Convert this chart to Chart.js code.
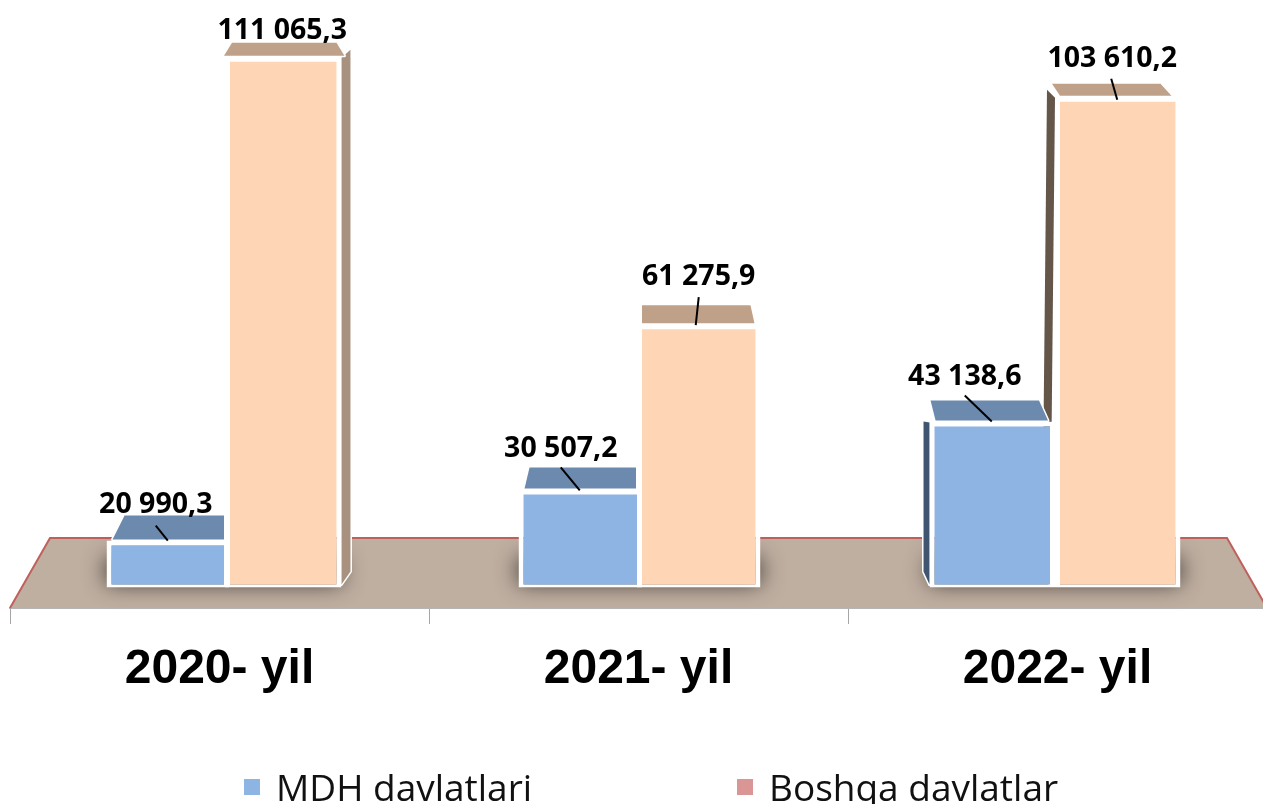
<!DOCTYPE html>
<html>
<head>
<meta charset="utf-8">
<title>MDH va boshqa davlatlar</title>
<script src="https://cdn.jsdelivr.net/npm/chart.js@4"></script>
<style>
  html, body { margin: 0; height: 100%; background: #fff; overflow: hidden; }
  #wrap { position: relative; width: 1263px; height: 804px; overflow: hidden; }
  #overviewChart { position: absolute; left: 0; top: 0; }
  .legend-item { position: absolute; top: 760px; height: 54px; line-height: 54px; white-space: nowrap;
    font-family: "Open Sans", sans-serif; font-size: 37px; color: #111; }
  .legend-box { position: absolute; top: 19px; width: 16px; height: 16px; }
  .legend-text { position: absolute; top: 0; }
</style>
</head>
<body>
<div id="wrap">
  <canvas id="overviewChart" width="1270" height="804"></canvas>
  <div id="legend"></div>
</div>
<script>
// chart values
const YEARS = ['2020- yil', '2021- yil', '2022- yil'];
const MDH = [20990.3, 30507.2, 43138.6];
const BOSHQA = [111065.3, 61275.9, 103610.2];
const SERIES_NAMES = ['MDH davlatlari', 'Boshqa davlatlar'];

// the value axis does not start at zero in the original
const AXIS_MIN = 8422;
const AXIS_MAX = 121642;
const BAR_BASE = 12240;

// per bar tweaks for the fake perspective, [mdh, boshqa] for each year
const BAR_NUDGE = [[[8.5, 2], [3.5, -4]], [[2, 3], [0, 3]], [[-5, 5], [0, 5]]];
// top face, offsets from the bar: depth, front left, rear left, rear right, front right
const TOP_FACE = [
  [[24, 6, 18, -5, -5], [13, -1, 7, -5, 3]],
  [[21, 6, 11, -6, -6], [18, 5, 5, -10, -6]],
  [[20, 6, 1, -16, -7], [12, 5, -3, -20, -9]]
];
// side face: which edge, how wide, how far it leans at the bottom, how far it rises at the back
const SIDE_FACE = [
  [null, { edge: 'right', w: 9, lean: 0, rise: 7, color: '#A8917E' }],
  [null, null],
  [{ edge: 'left', w: 6, lean: 0, rise: 0, color: '#3F5570' }, { edge: 'left', w: 8, lean: -5, rise: 7, color: '#65564A' }]
];
// label centre relative to the bar centre/top, and leader line ends
const LABEL_POS = [
  [{ dx: -12, dy: -36, lx: [-12, 0], ly: [-15, 0] }, { dx: -1, dy: -26, lx: [0, 0], ly: [0, 0] }],
  [{ dx: -19.5, dy: -41, lx: [-19.5, -0.5], ly: [-22, 1] }, { dx: 0, dy: -47, lx: [0, -3], ly: [-27, 1] }],
  [{ dx: -27.5, dy: -45, lx: [-27.5, -0.5], ly: [-26, 0] }, { dx: -5.5, dy: -38, lx: [-6.5, -0.5], ly: [-18, 3] }]
];

const COLORS = {
  mdh: '#8DB4E2', mdhTop: '#6C89AE',
  boshqa: '#FED6B6', boshqaTop: '#BFA088',
  floor: '#BFAFA1', floorEdge: '#C0605C',
  legend: ['#8DB4E2', '#D99694']
};

function formatValue(v) {
  const parts = v.toFixed(1).split('.');
  return parts[0].replace(/\B(?=(\d{3})+$)/g, ' ') + ',' + parts[1];
}

const bars3d = {
  id: 'bars3d',
  afterDatasetsUpdate(chart) {
    chart.data.datasets.forEach((ds, d) => {
      chart.getDatasetMeta(d).data.forEach((bar, i) => {
        const [dx, dw] = BAR_NUDGE[i][d];
        bar.x += dx;
        bar.width += dw;
      });
    });
  },
  beforeDatasetsDraw(chart) {
    const { ctx, chartArea } = chart;
    const y = chart.scales.y;
    const rearY = chartArea.bottom - 70;
    const rearInset = 40;

    // floor
    ctx.save();
    ctx.beginPath();
    ctx.moveTo(chartArea.left, chartArea.bottom);
    ctx.lineTo(chartArea.left + rearInset, rearY);
    ctx.lineTo(chartArea.right - rearInset, rearY);
    ctx.lineTo(chartArea.right, chartArea.bottom);
    ctx.closePath();
    ctx.fillStyle = COLORS.floor;
    ctx.fill();
    ctx.beginPath();
    ctx.moveTo(chartArea.left, chartArea.bottom);
    ctx.lineTo(chartArea.left + rearInset, rearY);
    ctx.lineTo(chartArea.right - rearInset, rearY);
    ctx.lineTo(chartArea.right, chartArea.bottom);
    ctx.strokeStyle = COLORS.floorEdge;
    ctx.lineWidth = 2;
    ctx.stroke();

    // soft shadow under each pair of bars, the rect itself sits off canvas
    const baseY = y.getPixelForValue(BAR_BASE);
    const off = 3000;
    YEARS.forEach((_, i) => {
      const a = chart.getDatasetMeta(0).data[i];
      const b = chart.getDatasetMeta(1).data[i];
      const l = a.x - a.width / 2;
      const r = b.x + b.width / 2;
      ctx.shadowColor = 'rgba(45,38,34,0.95)';
      ctx.shadowBlur = 22;
      ctx.shadowOffsetX = off;
      ctx.fillStyle = '#000';
      ctx.fillRect(l - off, baseY - 30, r - l, 26);
    });
    ctx.shadowBlur = 0;
    ctx.shadowOffsetX = 0;
    ctx.shadowColor = 'transparent';

    // top and side faces, bars get drawn over them. boshqa first so mdh sits in front
    [1, 0].forEach(d => {
      chart.getDatasetMeta(d).data.forEach((bar, i) => {
        const l = bar.x - bar.width / 2;
        const r = bar.x + bar.width / 2;
        const [depth, fl, rl, rr, fr] = TOP_FACE[i][d];
        const front = bar.y - 1;
        ctx.strokeStyle = '#fff';
        ctx.lineWidth = 3;
        ctx.lineJoin = 'round';

        const side = SIDE_FACE[i][d];
        if (side) {
          const ex = side.edge === 'right' ? r : l;
          const sign = side.edge === 'right' ? 1 : -1;
          ctx.beginPath();
          ctx.moveTo(ex, bar.y + 1);
          ctx.lineTo(ex + sign * side.w, bar.y - side.rise);
          ctx.lineTo(ex + sign * side.w + side.lean, bar.base - 16);
          ctx.lineTo(ex + side.lean, bar.base - 3);
          ctx.closePath();
          ctx.stroke();
          ctx.fillStyle = side.color;
          ctx.fill();
        }

        ctx.beginPath();
        ctx.moveTo(l + fl, front);
        ctx.lineTo(l + rl, front - depth);
        ctx.lineTo(r + rr, front - depth);
        ctx.lineTo(r + fr, front);
        ctx.closePath();
        ctx.stroke();
        ctx.fillStyle = d === 0 ? COLORS.mdhTop : COLORS.boshqaTop;
        ctx.fill();
      });
    });
    ctx.restore();
  },
  afterDatasetsDraw(chart) {
    const { ctx } = chart;
    ctx.save();
    ctx.font = 'bold 28.5px "Open Sans", sans-serif';
    ctx.textAlign = 'center';
    ctx.textBaseline = 'middle';
    chart.data.datasets.forEach((ds, d) => {
      chart.getDatasetMeta(d).data.forEach((bar, i) => {
        const p = LABEL_POS[i][d];
        if (p.ly[0] !== p.ly[1]) {
          ctx.beginPath();
          ctx.moveTo(bar.x + p.lx[0], bar.y + p.ly[0]);
          ctx.lineTo(bar.x + p.lx[1], bar.y + p.ly[1]);
          ctx.strokeStyle = '#000';
          ctx.lineWidth = 2;
          ctx.stroke();
        }
        ctx.fillStyle = '#000';
        ctx.fillText(formatValue(ds.data[i]), bar.x + p.dx, bar.y + p.dy);
      });
    });
    ctx.restore();
  }
};

new Chart(document.getElementById('overviewChart'), {
  type: 'bar',
  data: {
    labels: YEARS,
    datasets: [
      { label: SERIES_NAMES[0], data: MDH, backgroundColor: COLORS.mdh },
      { label: SERIES_NAMES[1], data: BOSHQA, backgroundColor: COLORS.boshqa }
    ]
  },
  options: {
    responsive: false,
    animation: false,
    base: BAR_BASE,
    layout: { padding: { left: 10, right: 3, top: 0, bottom: 108 } },
    datasets: {
      bar: {
        categoryPercentage: 0.575,
        barPercentage: 1,
        borderColor: '#fff',
        borderWidth: { top: 5, left: 5, right: 5, bottom: 3 },
        borderSkipped: false,
        clip: false
      }
    },
    plugins: {
      legend: { display: false },
      tooltip: { enabled: false }
    },
    scales: {
      x: {
        border: { color: '#B5B5B5', width: 2 },
        grid: { drawOnChartArea: false, tickLength: 16, color: '#A6A6A6', lineWidth: 1 },
        ticks: {
          color: '#000',
          padding: 17,
          maxRotation: 0,
          font: { family: '"Liberation Sans", Arial, sans-serif', size: 48, weight: 'bold' }
        },
        afterFit(scale) { scale.height = 88; }
      },
      y: { display: false, min: AXIS_MIN, max: AXIS_MAX }
    }
  },
  plugins: [bars3d]
});

// legend is plain html, the gap between the two items is far wider than the built in one allows
const LEGEND_X = [[244, 276], [737, 769]];
document.getElementById('legend').innerHTML = SERIES_NAMES.map((name, i) => `
  <div class="legend-item" style="left: 0;">
    <span class="legend-box" style="left: ${LEGEND_X[i][0]}px; background: ${COLORS.legend[i]};"></span>
    <span class="legend-text" style="left: ${LEGEND_X[i][1]}px;">${name}</span>
  </div>
`).join('');
</script>
</body>
</html>
